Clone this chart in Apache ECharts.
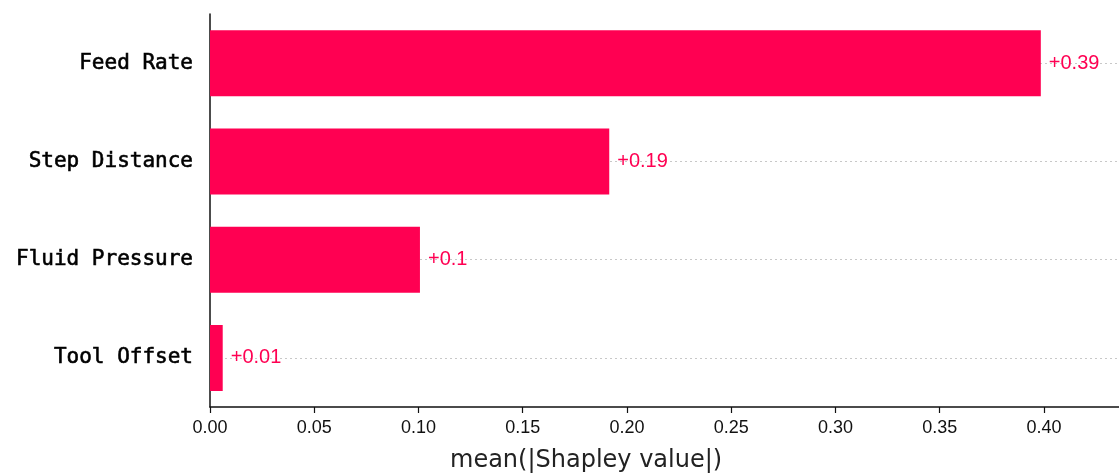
<!DOCTYPE html>
<html>
<head>
<meta charset="utf-8">
<style>
  html, body { margin: 0; padding: 0; background: #fff; }
  #chart { width: 1119px; height: 473px; }
</style>
<script src="https://cdn.jsdelivr.net/npm/echarts@6/dist/echarts.min.js"></script>
</head>
<body>
<div id="chart"></div>
<script>
// features listed top-to-bottom as in the picture
const features = ["Feed Rate", "Step Distance", "Fluid Pressure", "Tool Offset"];
const meanAbsShap = [0.3985, 0.1915, 0.1007, 0.0061];
const valueLabels = ["+0.39", "+0.19", "+0.1", "+0.01"];
const xTicks = [0, 0.05, 0.1, 0.15, 0.2, 0.25, 0.3, 0.35, 0.4];

const barColor = "#ff0052";

const chart = echarts.init(document.getElementById("chart"));

const option = {
  animation: false,
  grid: {
    left: 210,
    right: 0,
    top: 14,
    bottom: 66,
  },
  xAxis: {
    type: "value",
    min: 0,
    max: 0.436,
    splitLine: { show: false },
    axisLine: { show: true, lineStyle: { color: "#111", width: 1.5 } },
    axisTick: {
      show: true,
      length: 6,
      customValues: xTicks,
      lineStyle: { color: "#111", width: 1.2 },
    },
    axisLabel: {
      customValues: xTicks,
      margin: 12,
      color: "#111",
      fontFamily: "Liberation Sans, Arial, sans-serif",
      fontSize: 18,
      formatter: (v) => v.toFixed(2),
    },
  },
  yAxis: {
    type: "category",
    inverse: true,
    data: features,
    axisLine: { show: true, lineStyle: { color: "#111", width: 1.5 } },
    axisTick: { show: false },
    splitLine: { show: false },
    axisLabel: {
      margin: 17,
      color: "#000",
      fontFamily: "DejaVu Sans Mono, monospace",
      fontSize: 21,
      textBorderColor: "#000",
      textBorderWidth: 0.6,
    },
  },
  graphic: [
    {
      type: "text",
      left: 589 - 139,
      top: 449,
      style: {
        text: "mean(|Shapley value|)",
        fill: "#222",
        font: "24px 'DejaVu Sans', sans-serif",
      },
    },
  ],
  series: [
    {
      // dotted guide lines behind the bars
      type: "line",
      data: [],
      z: 1,
      markLine: {
        silent: true,
        z: 1,
        symbol: ["none", "none"],
        label: { show: false },
        lineStyle: { color: "#c8c8c8", type: [2, 3], width: 1 },
        data: features.map((f) => ({ yAxis: f })),
      },
    },
    {
      name: "mean(|SHAP|)",
      type: "bar",
      z: 3,
      data: meanAbsShap,
      barWidth: 66,
      itemStyle: { color: barColor },
      label: {
        show: true,
        position: "right",
        distance: 8,
        color: barColor,
        fontFamily: "Liberation Sans, Arial, sans-serif",
        fontSize: 20,
        formatter: (p) => valueLabels[p.dataIndex],
      },
    },
  ],
};

chart.setOption(option);
</script>
</body>
</html>
